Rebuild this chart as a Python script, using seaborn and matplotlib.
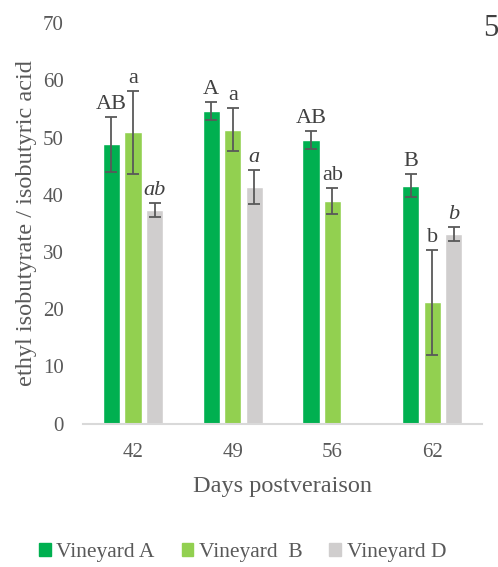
import numpy as np
import pandas as pd
import matplotlib
matplotlib.use("Agg")
import matplotlib.pyplot as plt
import seaborn as sns

days = ["42", "49", "56", "62"]
series = ["Vineyard A", "Vineyard  B", "Vineyard D"]
vals_a = [48.8, 54.6, 49.6, 41.6]
vals_b = [50.9, 51.4, 38.9, 21.2]
vals_d = [37.4, 41.4, np.nan, 33.2]
err_a = [4.8, 1.6, 1.6, 2.0]
err_b = [7.3, 3.8, 2.3, 9.2]
err_d = [1.2, 3.0, np.nan, 1.2]
letters_a = ["AB", "A", "AB", "B"]
letters_b = ["a", "a", "ab", "b"]
letters_d = ["ab", "a", "", "b"]

colors = ["#00B050", "#92D050", "#D0CECE"]
txt = "#595959"

sns.set_theme(style="white")
plt.rcParams["font.family"] = ["Liberation Serif", "DejaVu Serif"]

rows = []
for s, v, e, l in zip(series, [vals_a, vals_b, vals_d], [err_a, err_b, err_d],
                      [letters_a, letters_b, letters_d]):
    for d, vi, ei, li in zip(days, v, e, l):
        rows.append(dict(day=d, series=s, value=vi, err=ei, letter=li))
df = pd.DataFrame(rows)

fig = plt.figure(figsize=(4.98, 5.67), dpi=100)
ax = fig.add_axes([0.167, 0.253, 0.801, 0.706])

sns.barplot(data=df, x="day", y="value", hue="series", order=days,
            hue_order=series, palette=colors, width=0.65, gap=0.2,
            errorbar=None, ax=ax, saturation=1, legend=True)

for i, s in enumerate(series):
    cont = ax.containers[i]
    sub = df[df.series == s].set_index("day").loc[days]
    sub = sub[sub.value.notna()]
    italic = (s == "Vineyard D")
    for bar, (_, r) in zip(cont, sub.iterrows()):
        x = bar.get_x() + bar.get_width() / 2
        ax.errorbar(x, r.value, yerr=r.err, fmt="none", ecolor="#595959",
                    elinewidth=1.3, capsize=4.5, capthick=1.3)
        ax.annotate(r.letter, (x, r.value + r.err), xytext=(0, 2),
                    textcoords="offset points", ha="center", va="bottom",
                    fontsize=16, color="#404040",
                    style="italic" if italic else "normal")

ax.set_ylim(0, 70)
ax.set_yticks(range(0, 71, 10))
ax.set_xlim(-0.5, 3.5)
for sp in ["top", "right", "left"]:
    ax.spines[sp].set_visible(False)
ax.spines["bottom"].set_color("#D9D9D9")
ax.spines["bottom"].set_linewidth(1.5)
ax.tick_params(axis="both", length=0, labelsize=15, labelcolor=txt, pad=14)
ax.tick_params(axis="x", pad=14)
ax.set_xlabel("Days postveraison", fontsize=17.5, color=txt, labelpad=10)
ax.set_ylabel("ethyl isobutyrate / isobutyric acid", fontsize=17.5, color=txt,
              labelpad=4)

ax.legend_.remove()
handles = [plt.Rectangle((0, 0), 1, 1, color=c) for c in colors]
fig.legend(handles, series, loc="center", bbox_to_anchor=(0.487, 0.025),
           ncol=3, frameon=False, fontsize=15.5, handlelength=0.55,
           handleheight=0.55, handletextpad=0.25, columnspacing=1.25,
           labelcolor=txt)

fig.text(0.985, 0.95, "5", fontsize=22, color="#404040", ha="center",
         va="center")

fig.savefig("out.png", dpi=100)
